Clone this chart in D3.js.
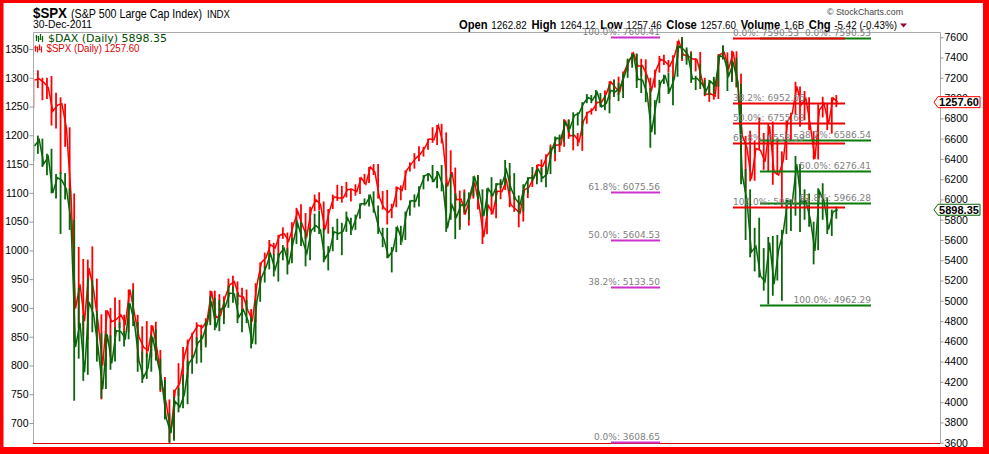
<!DOCTYPE html>
<html><head><meta charset="utf-8">
<script src="https://cdn.jsdelivr.net/npm/d3@7"></script>
<style>body{margin:0;background:#fff}svg{display:block}</style>
</head><body>
<svg id="c" width="989" height="454"></svg>
<script>
// ---- categories: weekly periods (week ending Friday), Aug 2008 - Dec 2011
const weekEnds = d3.timeFriday.range(new Date(2008,7,8), new Date(2011,11,31));

// ---- $SPX weekly high / low / close (left scale)
const spxHigh = [
1297,1313,1300,1300,1303,1274,1266,1255,1214,1099,1006,985,984,1007,951,889,896,900,918,914,888,
932,943,888,868,877,870,876,827,780,741,758,804,832,845,857,875,871,882,930,930,924,920,951,956,946,935,932,898,943,979,996,1018,1013,1027,1040,1031,1049,1074,1080,1065,1076,1097,1101,1085,1072,1097,1114,1112,1119,1108,1115,1127,
1133,1145,1150,1150,1103,1105,1081,1111,1113,1139,1153,1169,1181,1180,1194,1214,1218,1220,1205,1174,1144,1104,1106,1092,1120,1131,1073,1078,1099,1104,1120,1128,1130,1100,1085,1105,1111,1131,1149,1158,1167,1184,1189,1196,1228,1227,1200,1204,1225,1241,1247,1259,1263,
1278,1294,1297,1302,1311,1331,1344,1341,1333,1332,1300,1314,1338,1340,1331,1339,1364,1371,1349,1346,1334,1345,1300,1292,1298,1341,1356,1344,1347,1346,1307,1199,1208,1191,1231,1204,1220,1224,1195,1172,1225,1239,1293,1285,1277,1266,1207,1254,1267,1255,1266,1270];
const spxLow = [
1247,1282,1261,1263,1217,1212,1133,1180,1088,840,866,852,845,899,818,741,798,815,851,865,857,
858,880,805,805,814,814,818,754,731,667,672,747,766,779,814,836,826,836,876,878,878,881,918,930,905,888,896,869,875,940,970,987,992,978,1020,992,1013,1040,1041,1020,1026,1068,1070,1033,1029,1072,1086,1083,1092,1085,1095,1098,
1115,1117,1131,1090,1071,1045,1056,1075,1087,1105,1137,1142,1155,1163,1175,1187,1183,1186,1066,1126,1056,1040,1062,1043,1090,1071,1011,1028,1062,1056,1089,1105,1075,1067,1040,1050,1091,1110,1122,1131,1132,1159,1155,1171,1180,1194,1174,1181,1173,1220,1236,1242,1252,
1257,1262,1271,1270,1276,1311,1324,1294,1303,1291,1249,1283,1309,1322,1309,1294,1333,1329,1330,1319,1311,1297,1268,1258,1262,1263,1334,1307,1296,1283,1168,1102,1120,1121,1174,1140,1137,1114,1131,1074,1157,1191,1235,1215,1226,1209,1158,1158,1231,1209,1203,1249];
const spxClose = [
1296,1298,1292,1283,1242,1252,1255,1213,1099,899,941,877,969,931,873,800,896,876,880,888,873,
932,890,850,832,826,869,827,770,735,683,757,769,816,843,857,870,866,878,929,883,887,919,940,946,921,919,896,879,940,979,987,1010,1004,1026,1029,1016,1043,1068,1044,1025,1071,1088,1080,1036,1069,1093,1091,1091,1106,1106,1102,1126,
1115,1145,1136,1092,1074,1066,1076,1109,1104,1139,1150,1160,1167,1178,1194,1192,1217,1187,1111,1136,1088,1089,1065,1092,1118,1077,1023,1078,1065,1103,1102,1122,1079,1072,1065,1105,1110,1126,1149,1146,1165,1176,1183,1183,1226,1199,1200,1189,1225,1240,1244,1257,1258,
1272,1293,1283,1276,1311,1329,1343,1320,1321,1304,1279,1314,1332,1328,1320,1337,1364,1340,1338,1333,1331,1300,1271,1272,1268,1340,1344,1316,1345,1292,1199,1179,1124,1177,1174,1154,1216,1136,1131,1155,1225,1238,1285,1253,1264,1216,1159,1244,1255,1220,1265,1258];

// ---- $DAX weekly high / low / close (right scale)
const daxHigh = [
6560,6630,6600,6450,6500,6250,6270,6260,6110,5800,5130,4860,5220,5200,4900,4680,4680,4660,4740,4790,4700,
4980,5110,4790,4500,4480,4660,4720,4430,4220,3890,4050,4140,4270,4410,4460,4640,4660,4790,5050,5030,5010,4990,5150,5140,5080,4920,5010,4840,5000,5240,5340,5470,5460,5470,5550,5520,5620,5800,5780,5700,5720,5860,5890,5720,5540,5730,5810,5770,5880,5820,5850,5960,
6010,6050,6080,5940,5720,5720,5530,5730,5740,5880,5990,6050,6130,6240,6260,6340,6280,6340,6160,6250,6060,5980,6070,6070,6230,6240,6100,6110,6220,6160,6200,6390,6360,6260,6040,6150,6220,6320,6300,6310,6330,6520,6620,6640,6780,6790,6860,6860,6960,7040,7030,7080,7050,
7030,7140,7180,7150,7240,7390,7440,7440,7320,7230,7100,6980,7180,7230,7250,7210,7520,7600,7500,7450,7220,7340,7180,7180,7210,7420,7520,7370,7370,7400,7140,6300,6100,5720,5820,5520,5630,5640,5650,5700,6000,6000,6430,6350,6100,6060,5780,6110,6160,6020,5900,5930];
const daxLow = [
6380,6450,6320,6240,6060,6010,5660,6000,5700,4014,4430,4210,4270,4690,4400,4040,4130,4320,4400,4600,4550,
4620,4750,4300,4190,4230,4300,4410,4120,3830,3589,3620,3900,3940,3980,4280,4380,4390,4540,4760,4710,4700,4770,4930,4980,4780,4690,4780,4530,4570,4990,5180,5310,5240,5190,5400,5260,5370,5560,5540,5340,5400,5680,5660,5380,5300,5490,5600,5450,5680,5650,5700,5810,
5940,5930,5870,5660,5530,5420,5280,5480,5550,5600,5840,5920,5930,6100,6180,6170,6110,6080,5680,5800,5610,5700,5870,5800,6030,6000,5830,5840,6030,5960,6110,6140,6080,6000,5860,5880,6060,6180,6150,6170,6120,6250,6450,6540,6570,6660,6620,6730,6630,6950,6950,6960,6910,
6880,6850,7010,6970,7000,7200,7300,7100,7050,6960,6510,6640,6950,7140,7040,6930,7210,7390,7330,7150,7080,7090,7030,7030,7040,7110,7380,7070,7160,7110,6150,5600,5430,5290,5230,5100,4965,5050,5200,5000,5660,5690,5840,5680,5800,5730,5360,5500,5800,5660,5640,5810];
const daxClose = [
6528,6591,6350,6422,6065,6216,6189,6104,5797,4544,4781,4295,4988,4866,4530,4127,4669,4382,4705,4696,4629,
4974,4783,4409,4243,4338,4645,4421,4215,3844,3695,4007,3953,4076,4384,4445,4585,4632,4769,4995,4737,4917,4941,5077,5069,4839,4913,4809,4576,4998,5229,5332,5464,5309,5462,5517,5359,5580,5763,5605,5468,5694,5743,5699,5415,5489,5681,5663,5686,5817,5709,5831,5957,
5957,6037,5876,5696,5608,5434,5500,5722,5598,5877,5990,5982,6120,6235,6250,6180,6260,6136,5716,5946,5829,5947,5938,6049,6216,6070,5835,6105,6040,6154,6148,6291,6110,6005,5951,6135,6214,6209,6298,6211,6255,6492,6605,6601,6754,6703,6830,6849,6947,7006,6982,7057,6914,
6947,7076,7062,7102,7216,7371,7426,7185,7178,7044,6665,6946,7150,7217,7068,7190,7514,7481,7430,7189,7195,7148,7071,7164,7121,7419,7400,7220,7344,7159,6236,5998,5480,5537,5246,5189,5574,5164,5502,5676,5988,5971,6346,5967,5986,5800,5493,6080,5986,5702,5878,5898];

// ---- axis ticks
const leftTicks = [700,750,800,850,900,950,1000,1050,1100,1150,1200,1250,1300,1350];
const rightTicks = [3600,3800,4000,4200,4400,4600,4800,5000,5200,5400,5600,5800,6000,6200,6400,6600,6800,7000,7200,7400,7600];

// ---- Fibonacci retracement sets (values on right scale)
const magLevels = ["100.0%","61.8%","50.0%","38.2%","0.0%"];
const magValues = [7600.41,6075.56,5604.53,5133.50,3608.65];
const redLevels = ["0.0%","38.2%","50.0%","61.8%","100.0%"];
const redValues = [7590.53,6952.66,6755.63,6558.59,5920.71];
const greenLevels = ["0.0%","38.2%","50.0%","61.8%","100.0%"];
const greenValues = [7590.53,6586.54,6276.41,5966.28,4962.29];

// ---- header quote
const quoteLabels = ["Open","High","Low","Close","Volume","Chg"];
const quoteValues = ["1262.82","1264.12","1257.46","1257.60","1.6B","-5.42 (-0.43%)"];
const lastSpx = 1257.60, lastDax = 5898.35;

// ---- setup
const svg = d3.select("#c");
const W = 989, H = 454;
const P = {l:33.5, t:32.5, r:940.5, b:443.5};
const FONT = "'Liberation Sans', Arial, sans-serif";
const RED = "#ff0000", GREEN = "#0a640a", GRAY = "#808080";

const x = d3.scaleTime().domain([new Date(2008,7,7), new Date(2012,5,5)]).range([34, 940]);
const yL = d3.scaleLinear().domain([700,1350]).range([423,49]);
const yR = d3.scaleLinear().domain([3600,7600]).range([442.7,37.3]);

svg.append("rect").attr("width",W).attr("height",H).attr("fill","#fff");

// header
const hdr = svg.append("g").attr("font-family",FONT).attr("fill","#000");
hdr.append("text").attr("x",33).attr("y",17.5).attr("font-size",14).attr("font-weight","bold")
   .attr("textLength",34).attr("lengthAdjust","spacingAndGlyphs").text("$SPX");
hdr.append("text").attr("x",71).attr("y",17.5).attr("font-size",12).attr("textLength",131).attr("lengthAdjust","spacingAndGlyphs").text("(S&P 500 Large Cap Index)");
hdr.append("text").attr("x",207).attr("y",17.5).attr("font-size",10).attr("textLength",23).attr("lengthAdjust","spacingAndGlyphs").text("INDX");
hdr.append("text").attr("x",33).attr("y",28).attr("font-size",11).attr("textLength",59).attr("lengthAdjust","spacingAndGlyphs").text("30-Dec-2011");
hdr.append("text").attr("x",827).attr("y",15).attr("font-size",9.5).attr("fill","#444").attr("textLength",76).attr("lengthAdjust","spacingAndGlyphs").text("© StockCharts.com");

const q = hdr.append("text").attr("x",459).attr("y",28.5);
quoteLabels.forEach((lab,i)=>{
  q.append("tspan").attr("font-size",12).attr("font-weight","bold").attr("dx", i?5:0).text(lab);
  q.append("tspan").attr("font-size",10.5).attr("dx",4).text(quoteValues[i]);
});
q.attr("textLength",438).attr("lengthAdjust","spacingAndGlyphs");
hdr.append("path").attr("d","M900,23.5 L907,23.5 L903.5,27.5Z").attr("fill","#990033");

// plot frame
svg.append("path").attr("d",`M${P.l},${P.b} V${P.t} H${P.r} V${P.b}`)
   .attr("fill","none").attr("stroke","#aaa").attr("stroke-width",1);

// clip
svg.append("clipPath").attr("id","pc").append("rect")
   .attr("x",34).attr("y",33).attr("width",906).attr("height",412);
const plot = svg.append("g").attr("clip-path","url(#pc)");

function drawSeries(high, low, close, y, color){
  const g = plot.append("g");
  g.selectAll("line").data(weekEnds).join("line")
    .attr("x1",(d)=>x(d3.timeDay.offset(d,-2))).attr("x2",(d)=>x(d3.timeDay.offset(d,-2)))
    .attr("y1",(d,i)=>y(low[i])).attr("y2",(d,i)=>y(high[i]))
    .attr("stroke",color).attr("stroke-width",1.8);
  g.append("path").datum(weekEnds)
    .attr("d",d3.line().x(d=>x(d)).y((d,i)=>y(close[i])))
    .attr("fill","none").attr("stroke",color).attr("stroke-width",1.5);
}
drawSeries(spxHigh, spxLow, spxClose, yL, RED);
drawSeries(daxHigh, daxLow, daxClose, yR, GREEN);

// bottom red line
svg.append("line").attr("x1",33).attr("x2",940).attr("y1",443.5).attr("y2",443.5)
   .attr("stroke","#e00000").attr("stroke-width",1.2);

// fib sets
const fib = svg.append("g").attr("font-family","'DejaVu Sans', Verdana, sans-serif").attr("font-size",9).attr("fill",GRAY);
function fibSet(levels, values, x0, x1, color, anchor, lx){
  values.forEach((v,i)=>{
    const yy = Math.round(yR(v))+0.5;
    fib.append("line").attr("x1",x0).attr("x2",x1).attr("y1",yy).attr("y2",yy)
       .attr("stroke",color).attr("stroke-width",2);
    fib.append("text").attr("x",lx).attr("y",yy-2.5).attr("text-anchor",anchor)
       .text(`${levels[i]}: ${v.toFixed(2)}`);
  });
}
fibSet(greenLevels, greenValues, 760, 871, "#0a7a0a", "end", 871);
fibSet(redLevels, redValues, 733, 845, "#ee0000", "start", 733);
fibSet(magLevels, magValues, 611, 660, "#cc33cc", "end", 660);

// axes
const axL = svg.append("g").attr("transform",`translate(${P.l},0)`)
  .call(d3.axisLeft(yL).tickValues(leftTicks).tickSize(4).tickPadding(1).tickFormat(d3.format("d")));
axL.select(".domain").remove();
axL.selectAll("line").attr("stroke","#999");
axL.selectAll("text").attr("font-family",FONT).attr("font-size",10.5).attr("fill","#000");

const axR = svg.append("g").attr("transform",`translate(${P.r},0)`)
  .call(d3.axisRight(yR).tickValues(rightTicks).tickSize(3).tickPadding(1).tickFormat(d3.format("d")));
axR.select(".domain").remove();
axR.selectAll("line").attr("stroke","#999");
axR.selectAll("text").attr("font-family",FONT).attr("font-size",10.5).attr("fill","#000");

// last-value boxes
function valBox(yy, txt, color){
  const g = svg.append("g");
  g.append("path").attr("d",`M934,${yy} L938,${yy-5.5} H980 V${yy+5.5} H938 Z`)
    .attr("fill","#fff").attr("stroke",color).attr("stroke-width",1);
  g.append("text").attr("x",959).attr("y",yy+4).attr("text-anchor","middle")
    .attr("font-family",FONT).attr("font-size",11).attr("font-weight","bold").text(txt);
}
valBox(yL(lastSpx), lastSpx.toFixed(2), RED);
valBox(yR(lastDax), lastDax.toFixed(2), GREEN);

// legend
const lg = svg.append("g").attr("font-family","'DejaVu Sans', Verdana, sans-serif");
function icon(x0, y0, color){
  const p = `M${x0},${y0-4}v6 M${x0+2},${y0-3}v6 M${x0+4},${y0-5}v6 M${x0+6},${y0-3}v6 M${x0-1},${y0-2}h2 M${x0+3},${y0}h2`;
  lg.append("path").attr("d",p).attr("stroke",color).attr("stroke-width",1.2).attr("fill","none");
}
icon(36.5, 39, GREEN);
icon(35.5, 49.5, RED);
lg.append("text").attr("x",48).attr("y",41.5).attr("font-size",10.5).attr("fill","#004d00")
  .attr("textLength",119).attr("lengthAdjust","spacingAndGlyphs").text(`$DAX (Daily) ${lastDax.toFixed(2)}`);
lg.append("text").attr("x",46.5).attr("y",52).attr("font-size",10.5).attr("fill","#dd0000")
  .attr("font-family",FONT).attr("textLength",93).attr("lengthAdjust","spacingAndGlyphs").text(`$SPX (Daily) ${lastSpx.toFixed(2)}`);

// outer red frame
svg.append("rect").attr("x",0).attr("y",0).attr("width",3.5).attr("height",H).attr("fill",RED);
svg.append("rect").attr("x",0).attr("y",0).attr("width",W).attr("height",3).attr("fill",RED);
svg.append("rect").attr("x",983).attr("y",0).attr("width",6).attr("height",H).attr("fill",RED);
svg.append("rect").attr("x",0).attr("y",447).attr("width",W).attr("height",7).attr("fill",RED);
</script>
</body></html>
